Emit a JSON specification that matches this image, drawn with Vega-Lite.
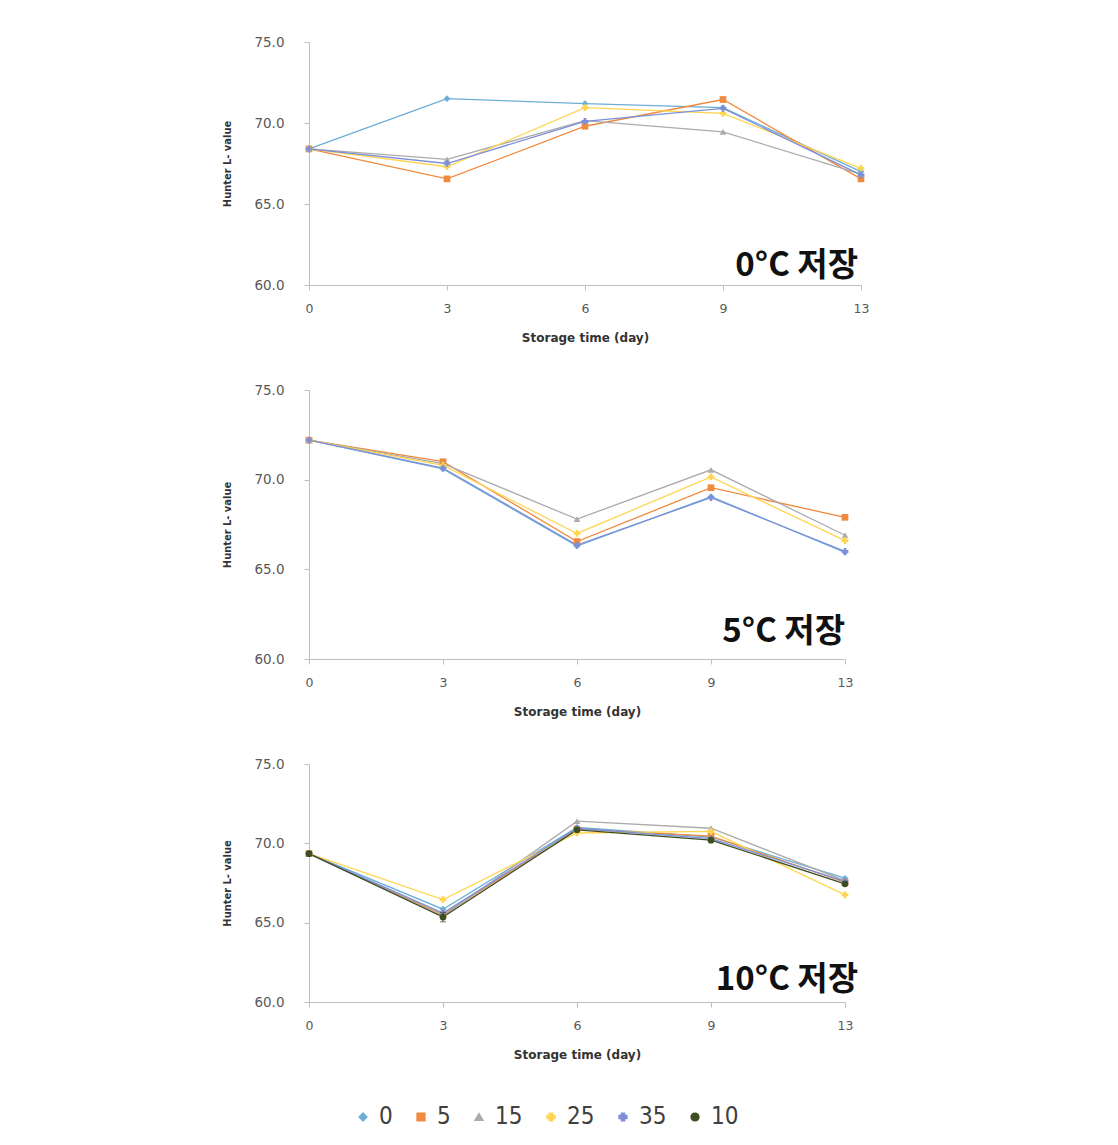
{
  "$schema": "https://vega.github.io/schema/vega-lite/v6.json",
  "background": "white",
  "padding": {"left": 221, "top": 35, "right": 10, "bottom": 10},
  "datasets": {
    "d": [
      {"panel": "A", "series": "0", "day": 0, "value": 68.4},
      {"panel": "A", "series": "0", "day": 3, "value": 71.5},
      {"panel": "A", "series": "0", "day": 6, "value": 71.2},
      {"panel": "A", "series": "0", "day": 9, "value": 70.95},
      {"panel": "A", "series": "0", "day": 13, "value": 67.0},
      {"panel": "A", "series": "5", "day": 0, "value": 68.4},
      {"panel": "A", "series": "5", "day": 3, "value": 66.55},
      {"panel": "A", "series": "5", "day": 6, "value": 69.8},
      {"panel": "A", "series": "5", "day": 9, "value": 71.45},
      {"panel": "A", "series": "5", "day": 13, "value": 66.55},
      {"panel": "A", "series": "15", "day": 0, "value": 68.4},
      {"panel": "A", "series": "15", "day": 3, "value": 67.75},
      {"panel": "A", "series": "15", "day": 6, "value": 70.15},
      {"panel": "A", "series": "15", "day": 9, "value": 69.45},
      {"panel": "A", "series": "15", "day": 13, "value": 66.85},
      {"panel": "A", "series": "25", "day": 0, "value": 68.4},
      {"panel": "A", "series": "25", "day": 3, "value": 67.3},
      {"panel": "A", "series": "25", "day": 6, "value": 70.95},
      {"panel": "A", "series": "25", "day": 9, "value": 70.6},
      {"panel": "A", "series": "25", "day": 13, "value": 67.2},
      {"panel": "A", "series": "35", "day": 0, "value": 68.4},
      {"panel": "A", "series": "35", "day": 3, "value": 67.5},
      {"panel": "A", "series": "35", "day": 6, "value": 70.1},
      {"panel": "A", "series": "35", "day": 9, "value": 70.9},
      {"panel": "A", "series": "35", "day": 13, "value": 66.8},
      {"panel": "B", "series": "0", "day": 0, "value": 72.2},
      {"panel": "B", "series": "0", "day": 3, "value": 70.6},
      {"panel": "B", "series": "0", "day": 6, "value": 66.3},
      {"panel": "B", "series": "0", "day": 9, "value": 69.05},
      {"panel": "B", "series": "0", "day": 13, "value": 65.95},
      {"panel": "B", "series": "5", "day": 0, "value": 72.2},
      {"panel": "B", "series": "5", "day": 3, "value": 71.0},
      {"panel": "B", "series": "5", "day": 6, "value": 66.55},
      {"panel": "B", "series": "5", "day": 9, "value": 69.55},
      {"panel": "B", "series": "5", "day": 13, "value": 67.9},
      {"panel": "B", "series": "15", "day": 0, "value": 72.2},
      {"panel": "B", "series": "15", "day": 3, "value": 70.9},
      {"panel": "B", "series": "15", "day": 6, "value": 67.8},
      {"panel": "B", "series": "15", "day": 9, "value": 70.55},
      {"panel": "B", "series": "15", "day": 13, "value": 66.9},
      {"panel": "B", "series": "25", "day": 0, "value": 72.2},
      {"panel": "B", "series": "25", "day": 3, "value": 70.8},
      {"panel": "B", "series": "25", "day": 6, "value": 67.0},
      {"panel": "B", "series": "25", "day": 9, "value": 70.15},
      {"panel": "B", "series": "25", "day": 13, "value": 66.6},
      {"panel": "B", "series": "35", "day": 0, "value": 72.2},
      {"panel": "B", "series": "35", "day": 3, "value": 70.65},
      {"panel": "B", "series": "35", "day": 6, "value": 66.35},
      {"panel": "B", "series": "35", "day": 9, "value": 69.0},
      {"panel": "B", "series": "35", "day": 13, "value": 66.0},
      {"panel": "C", "series": "0", "day": 0, "value": 69.35},
      {"panel": "C", "series": "0", "day": 3, "value": 65.85},
      {"panel": "C", "series": "0", "day": 6, "value": 71.0},
      {"panel": "C", "series": "0", "day": 9, "value": 70.4},
      {"panel": "C", "series": "0", "day": 13, "value": 67.8},
      {"panel": "C", "series": "5", "day": 0, "value": 69.35},
      {"panel": "C", "series": "5", "day": 3, "value": 65.5},
      {"panel": "C", "series": "5", "day": 6, "value": 70.9},
      {"panel": "C", "series": "5", "day": 9, "value": 70.45},
      {"panel": "C", "series": "5", "day": 13, "value": 67.55},
      {"panel": "C", "series": "15", "day": 0, "value": 69.35},
      {"panel": "C", "series": "15", "day": 3, "value": 65.4},
      {"panel": "C", "series": "15", "day": 6, "value": 71.4},
      {"panel": "C", "series": "15", "day": 9, "value": 70.95},
      {"panel": "C", "series": "15", "day": 13, "value": 67.65},
      {"panel": "C", "series": "25", "day": 0, "value": 69.35},
      {"panel": "C", "series": "25", "day": 3, "value": 66.45},
      {"panel": "C", "series": "25", "day": 6, "value": 70.65},
      {"panel": "C", "series": "25", "day": 9, "value": 70.75},
      {"panel": "C", "series": "25", "day": 13, "value": 66.75},
      {"panel": "C", "series": "35", "day": 0, "value": 69.35},
      {"panel": "C", "series": "35", "day": 3, "value": 65.6},
      {"panel": "C", "series": "35", "day": 6, "value": 70.95},
      {"panel": "C", "series": "35", "day": 9, "value": 70.3},
      {"panel": "C", "series": "35", "day": 13, "value": 67.6},
      {"panel": "C", "series": "10", "day": 0, "value": 69.35, "lo": 69.25, "hi": 69.45},
      {"panel": "C", "series": "10", "day": 3, "value": 65.35, "lo": 65.05, "hi": 65.65},
      {"panel": "C", "series": "10", "day": 6, "value": 70.85, "lo": 70.75, "hi": 70.95},
      {"panel": "C", "series": "10", "day": 9, "value": 70.2, "lo": 70.1, "hi": 70.3},
      {"panel": "C", "series": "10", "day": 13, "value": 67.45, "lo": 67.35, "hi": 67.55}
    ]
  },
  "vconcat": [
    {
      "width": 552, "height": 243,
      "layer": [
        {
          "data": {"name": "d"},
          "transform": [{"filter": "datum.panel == 'A'"}],
          "mark": {"type": "line", "strokeWidth": 1.3, "point": {"filled": true, "size": 45}},
          "encoding": {
            "x": {"field": "day", "type": "ordinal", "scale": {"type": "point", "padding": 0}, "axis": {"title": "Storage time (day)"}},
            "y": {"field": "value", "type": "quantitative", "scale": {"domain": [60, 75], "nice": false, "zero": false}, "axis": {"title": "Hunter L- value", "values": [60, 65, 70, 75], "format": ".1f"}},
            "color": {"field": "series", "type": "nominal", "scale": {"domain": ["0", "5", "15", "25", "35", "10"], "range": ["#6BAED6", "#F08A3C", "#ABABAB", "#FFD54F", "#7C8FD9", "#3D4F22"]}, "legend": {"title": null}},
            "shape": {"field": "series", "type": "nominal", "scale": {"domain": ["0", "5", "15", "25", "35", "10"], "range": ["diamond", "square", "triangle-up", "cross", "cross", "circle"]}, "legend": {"title": null}}
          }
        },
        {
          "data": {"values": [{}]},
          "mark": {"type": "text", "align": "right", "baseline": "middle", "dx": -3, "font": "Noto Sans CJK KR", "fontWeight": "bold", "fontSize": 33, "color": "#111111"},
          "encoding": {"x": {"datum": 13, "type": "ordinal"}, "y": {"datum": 61.15, "type": "quantitative"}, "text": {"value": "0°C 저장"}}
        }
      ]
    },
    {
      "width": 536, "height": 269,
      "layer": [
        {
          "data": {"name": "d"},
          "transform": [{"filter": "datum.panel == 'B'"}],
          "mark": {"type": "line", "strokeWidth": 1.3, "point": {"filled": true, "size": 45}},
          "encoding": {
            "x": {"field": "day", "type": "ordinal", "scale": {"type": "point", "padding": 0}, "axis": {"title": "Storage time (day)"}},
            "y": {"field": "value", "type": "quantitative", "scale": {"domain": [60, 75], "nice": false, "zero": false}, "axis": {"title": "Hunter L- value", "values": [60, 65, 70, 75], "format": ".1f"}},
            "color": {"field": "series", "type": "nominal", "legend": {"title": null}},
            "shape": {"field": "series", "type": "nominal", "legend": {"title": null}}
          }
        },
        {
          "data": {"values": [{}]},
          "mark": {"type": "text", "align": "right", "baseline": "middle", "dx": 0, "font": "Noto Sans CJK KR", "fontWeight": "bold", "fontSize": 33, "color": "#111111"},
          "encoding": {"x": {"datum": 13, "type": "ordinal"}, "y": {"datum": 61.5, "type": "quantitative"}, "text": {"value": "5°C 저장"}}
        }
      ]
    },
    {
      "width": 536, "height": 238,
      "layer": [
        {
          "data": {"name": "d"},
          "transform": [{"filter": "datum.panel == 'C'"}],
          "mark": {"type": "line", "strokeWidth": 1.3, "point": {"filled": true, "size": 45}},
          "encoding": {
            "x": {"field": "day", "type": "ordinal", "scale": {"type": "point", "padding": 0}, "axis": {"title": "Storage time (day)"}},
            "y": {"field": "value", "type": "quantitative", "scale": {"domain": [60, 75], "nice": false, "zero": false}, "axis": {"title": "Hunter L- value", "values": [60, 65, 70, 75], "format": ".1f"}},
            "color": {"field": "series", "type": "nominal", "legend": {"title": null}},
            "shape": {"field": "series", "type": "nominal", "legend": {"title": null}}
          }
        },
        {
          "data": {"name": "d"},
          "transform": [{"filter": "datum.panel == 'C' && datum.series == '10'"}],
          "mark": {"type": "errorbar", "ticks": {"size": 6}, "color": "#3D4F22"},
          "encoding": {
            "x": {"field": "day", "type": "ordinal"},
            "y": {"field": "lo", "type": "quantitative", "title": "Hunter L- value"},
            "y2": {"field": "hi"}
          }
        },
        {
          "data": {"values": [{}]},
          "mark": {"type": "text", "align": "right", "baseline": "middle", "dx": 13, "font": "Noto Sans CJK KR", "fontWeight": "bold", "fontSize": 33, "color": "#111111"},
          "encoding": {"x": {"datum": 13, "type": "ordinal"}, "y": {"datum": 61.4, "type": "quantitative"}, "text": {"value": "10°C 저장"}}
        }
      ]
    }
  ],
  "spacing": 39,
  "resolve": {"scale": {"color": "shared", "shape": "shared"}},
  "config": {
    "view": {"stroke": null},
    "font": "DejaVu Sans",
    "axis": {
      "grid": false,
      "domainColor": "#BFBFBF",
      "tickColor": "#BFBFBF",
      "tickSize": 5,
      "labelColor": "#595959",
      "labelFont": "DejaVu Sans",
      "labelFontSize": 12.5,
      "titleFontWeight": "bold",
      "titleColor": "#333333"
    },
    "axisX": {"labelAngle": 0, "labelPadding": 12, "titleFont": "DejaVu Sans", "titleFontSize": 12, "titlePadding": 18},
    "axisY": {"labelFontSize": 13.5, "labelPadding": 20, "titleFont": "DejaVu Sans Condensed", "titleFontSize": 11, "titlePadding": 21},
    "legend": {
      "orient": "bottom",
      "direction": "horizontal",
      "columns": 6,
      "labelFont": "DejaVu Sans Condensed",
      "labelFontSize": 24,
      "labelColor": "#404040",
      "symbolSize": 60,
      "symbolStrokeWidth": 1.5,
      "columnPadding": 16,
      "offset": 44,
      "layout": {"bottom": {"anchor": "middle"}}
    }
  }
}
